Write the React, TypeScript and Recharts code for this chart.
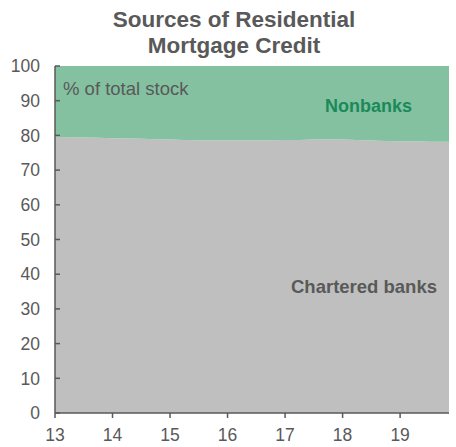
import React from 'react';
import { AreaChart, Area, XAxis, YAxis } from 'recharts';

// quarterly observations, x in years (13 = 2013)
const periods = [
  13, 13.25, 13.5, 13.75, 14, 14.25, 14.5, 14.75, 15, 15.25, 15.5, 15.75,
  16, 16.25, 16.5, 16.75, 17, 17.25, 17.5, 17.75, 18, 18.25, 18.5, 18.75,
  19, 19.25, 19.5, 19.75, 19.85,
];
const charteredBanks = [
  79.6, 79.5, 79.4, 79.3, 79.2, 79.1, 79.0, 78.9, 78.8, 78.7, 78.6, 78.6,
  78.6, 78.6, 78.6, 78.6, 78.7, 78.7, 78.8, 78.8, 78.8, 78.7, 78.5, 78.4,
  78.3, 78.3, 78.2, 78.2, 78.2,
];
const nonbanks = [
  20.4, 20.5, 20.6, 20.7, 20.8, 20.9, 21.0, 21.1, 21.2, 21.3, 21.4, 21.4,
  21.4, 21.4, 21.4, 21.4, 21.3, 21.3, 21.2, 21.2, 21.2, 21.3, 21.5, 21.6,
  21.7, 21.7, 21.8, 21.8, 21.8,
];
const xTicks = [13, 14, 15, 16, 17, 18, 19];
const yTicks = [0, 10, 20, 30, 40, 50, 60, 70, 80, 90, 100];

const data = periods.map((p, i) => ({
  period: p,
  chartered: charteredBanks[i],
  nonbanks: nonbanks[i],
}));

const FONT = 'Arial, "Liberation Sans", sans-serif';
const TEXT = '#595959';

export default function App() {
  return (
    <div style={{ position: 'absolute', left: 0, top: 0, width: 456, height: 447, fontFamily: FONT }}>
      <AreaChart
        width={456}
        height={447}
        data={data}
        margin={{ top: 66, right: 7, left: 0, bottom: 0 }}
      >
        <XAxis
          dataKey="period"
          type="number"
          domain={[13, 19.85]}
          ticks={xTicks}
          interval={0}
          height={34}
          stroke="#595959"
          strokeWidth={1.5}
          tickSize={5}
          tickMargin={11}
          tick={{ fill: TEXT, fontSize: 17.5, fontFamily: FONT }}
        />
        <YAxis
          type="number"
          domain={[0, 100]}
          ticks={yTicks}
          interval={0}
          width={55}
          stroke="#595959"
          strokeWidth={1.5}
          tickSize={-5}
          tickMargin={20}
          tick={{ fill: TEXT, fontSize: 17.5, fontFamily: FONT }}
        />
        <Area
          type="linear"
          dataKey="chartered"
          stackId="a"
          stroke="none"
          fill="#BFBFBF"
          fillOpacity={1}
          isAnimationActive={false}
        />
        <Area
          type="linear"
          dataKey="nonbanks"
          stackId="a"
          stroke="none"
          fill="#84C1A0"
          fillOpacity={1}
          isAnimationActive={false}
        />
      </AreaChart>
      <svg
        width={456}
        height={447}
        style={{ position: 'absolute', left: 0, top: 0, pointerEvents: 'none' }}
      >
        <text x={234} y={27} textAnchor="middle" fill={TEXT} fontSize={22.5} fontWeight="bold" fontFamily={FONT}>
          Sources of Residential
        </text>
        <text x={234} y={53} textAnchor="middle" fill={TEXT} fontSize={22.5} fontWeight="bold" fontFamily={FONT}>
          Mortgage Credit
        </text>
        <text x={63} y={95} fill={TEXT} fontSize={18.5} fontFamily={FONT}>
          % of total stock
        </text>
        <text x={325} y={112} fill="#1B8A5A" fontSize={18} fontWeight="bold" fontFamily={FONT}>
          Nonbanks
        </text>
        <text x={291} y={293} fill={TEXT} fontSize={18.5} fontWeight="bold" fontFamily={FONT}>
          Chartered banks
        </text>
      </svg>
    </div>
  );
}
